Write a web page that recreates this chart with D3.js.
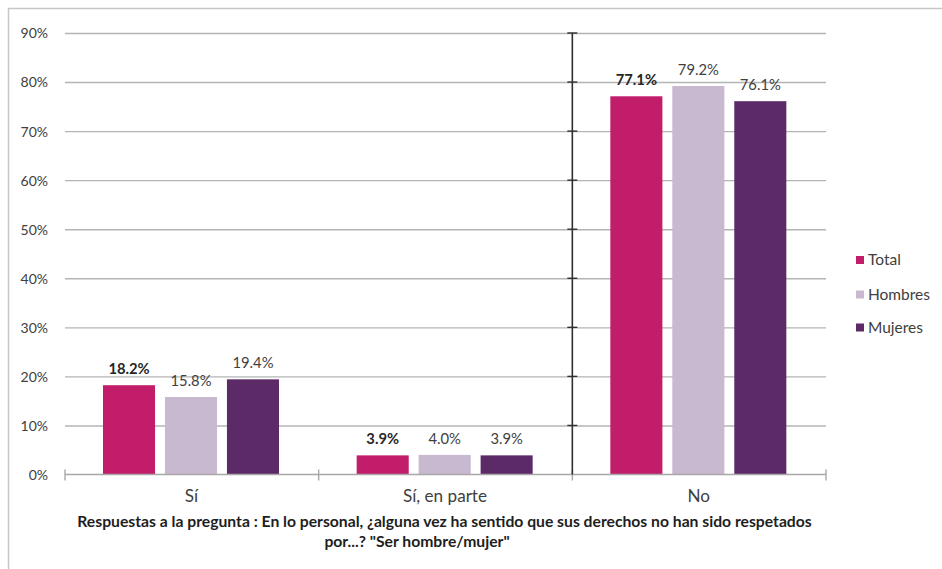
<!DOCTYPE html>
<html><head><meta charset="utf-8">
<script src="https://cdn.jsdelivr.net/npm/d3@7"></script>
<style>body{margin:0;background:#fff}svg{display:block}</style>
</head><body>
<svg id="c" width="942" height="569"></svg>
<script>
const categories = ["Sí", "Sí, en parte", "No"];
const seriesNames = ["Total", "Hombres", "Mujeres"];
const totalValues = [18.2, 3.9, 77.1];
const hombresValues = [15.8, 4.0, 79.2];
const mujeresValues = [19.4, 3.9, 76.1];
const seriesColors = ["#c21d6a", "#c9b9d0", "#5d2a68"];
const yTicks = [0, 10, 20, 30, 40, 50, 60, 70, 80, 90];
const titleLines = ["Respuestas a la pregunta : En lo personal, ¿alguna vez ha sentido que sus derechos no han sido respetados",
                    "por...? \"Ser hombre/mujer\""];

const seriesValues = [totalValues, hombresValues, mujeresValues];
const FONT = "Lato, 'Open Sans', sans-serif";
const svg = d3.select("#c");

// measure helper to fit font sizes to reference widths
function fitSize(text, weight, targetWidth) {
  const t = svg.append("text").attr("font-family", FONT).attr("font-weight", weight)
    .attr("font-size", 20).text(text);
  const w = t.node().getComputedTextLength();
  t.remove();
  return 20 * targetWidth / w;
}
const tickSize = fitSize("90%", "normal", 27.5);
const catSize = fitSize("Sí, en parte", "normal", 84);
const titleSize = fitSize(titleLines[0], "bold", 735);
const legSize = fitSize("Hombres", "normal", 62);
const lblSize = fitSize("15.8%", "normal", 41);

// frame
svg.append("rect").attr("x", 8.5).attr("y", 8.5).attr("width", 1000).attr("height", 1000)
  .attr("fill", "none").attr("stroke", "#c6c6c6").attr("stroke-width", 1.5);

const x0 = 65, x1 = 826;
const y = d3.scaleLinear().domain([0, 90]).range([474.5, 33]);
const x = d3.scaleBand().domain(categories).range([x0, x1]).paddingInner(0).paddingOuter(0);
const xs = d3.scaleBand().domain(seriesNames).range([38, 214]).paddingInner(0.16).paddingOuter(0);

// gridlines
const grid = svg.append("g").attr("transform", `translate(${x0},0)`)
  .call(d3.axisLeft(y).tickValues(yTicks.slice(1)).tickSize(-(x1 - x0)).tickFormat(""));
grid.select(".domain").remove();
grid.selectAll("line").attr("stroke", "#b4b4b4").attr("stroke-width", 1.4);

// y tick labels
const yax = svg.append("g").attr("transform", `translate(48,0)`)
  .call(d3.axisLeft(y).tickValues(yTicks).tickSize(0).tickPadding(0).tickFormat(d => d + "%"));
yax.select(".domain").remove();
yax.selectAll("text").attr("font-family", FONT).attr("font-size", tickSize).attr("fill", "#404040")
  .attr("text-anchor", "end").attr("dy", "0.35em");

// bars
categories.forEach((c, ci) => {
  seriesNames.forEach((s, si) => {
    const v = seriesValues[si][ci];
    svg.append("rect")
      .attr("x", x(c) + xs(s)).attr("width", xs.bandwidth())
      .attr("y", y(v)).attr("height", y(0) - y(v))
      .attr("fill", seriesColors[si]);
    svg.append("text")
      .attr("x", x(c) + xs(s) + xs.bandwidth() / 2)
      .attr("y", y(v) - 11)
      .attr("text-anchor", "middle")
      .attr("font-family", FONT).attr("font-size", lblSize)
      .attr("font-weight", si === 0 ? "bold" : "normal")
      .attr("fill", si === 0 ? "#262626" : "#404040")
      .text(v.toFixed(1) + "%");
  });
});

// x axis line and ticks
svg.append("line").attr("x1", x0).attr("x2", x1).attr("y1", y(0)).attr("y2", y(0))
  .attr("stroke", "#a8a8a8").attr("stroke-width", 1.4);
const bounds = categories.map(c => x(c)).concat([x1]);
svg.selectAll(".xt").data(bounds).enter().append("line")
  .attr("x1", d => d).attr("x2", d => d).attr("y1", y(0) - 5).attr("y2", y(0) + 6)
  .attr("stroke", "#a8a8a8").attr("stroke-width", 1.4);

// vertical dark line at No boundary
const vx = x("No");
svg.append("line").attr("x1", vx).attr("x2", vx).attr("y1", y(90)).attr("y2", y(0))
  .attr("stroke", "#303030").attr("stroke-width", 1.6);
svg.selectAll(".vt").data(yTicks.slice(1)).enter().append("line")
  .attr("x1", vx - 5).attr("x2", vx + 5).attr("y1", d => y(d)).attr("y2", d => y(d))
  .attr("stroke", "#303030").attr("stroke-width", 1.4);

// category labels
svg.selectAll(".cat").data(categories).enter().append("text")
  .attr("x", d => x(d) + x.bandwidth() / 2 - 0.5).attr("y", 502)
  .attr("text-anchor", "middle").attr("font-family", FONT).attr("font-size", catSize)
  .attr("fill", "#404040").text(d => d);

// title
const titleX = [444.5, 417];
const titleY = [527, 547];
titleLines.forEach((t, i) => {
  svg.append("text").attr("x", titleX[i]).attr("y", titleY[i]).attr("text-anchor", "middle")
    .attr("font-family", FONT).attr("font-weight", "bold").attr("font-size", titleSize)
    .attr("fill", "#1e1e1e").text(t);
});

// legend
const legY = [260, 294.5, 327.5];
seriesNames.forEach((s, i) => {
  svg.append("rect").attr("x", 856).attr("y", legY[i] - 4).attr("width", 8).attr("height", 8)
    .attr("fill", seriesColors[i]);
  svg.append("text").attr("x", 868).attr("y", legY[i]).attr("dy", "0.35em")
    .attr("font-family", FONT).attr("font-size", legSize).attr("fill", "#404040").text(s);
});
</script>
</body></html>
